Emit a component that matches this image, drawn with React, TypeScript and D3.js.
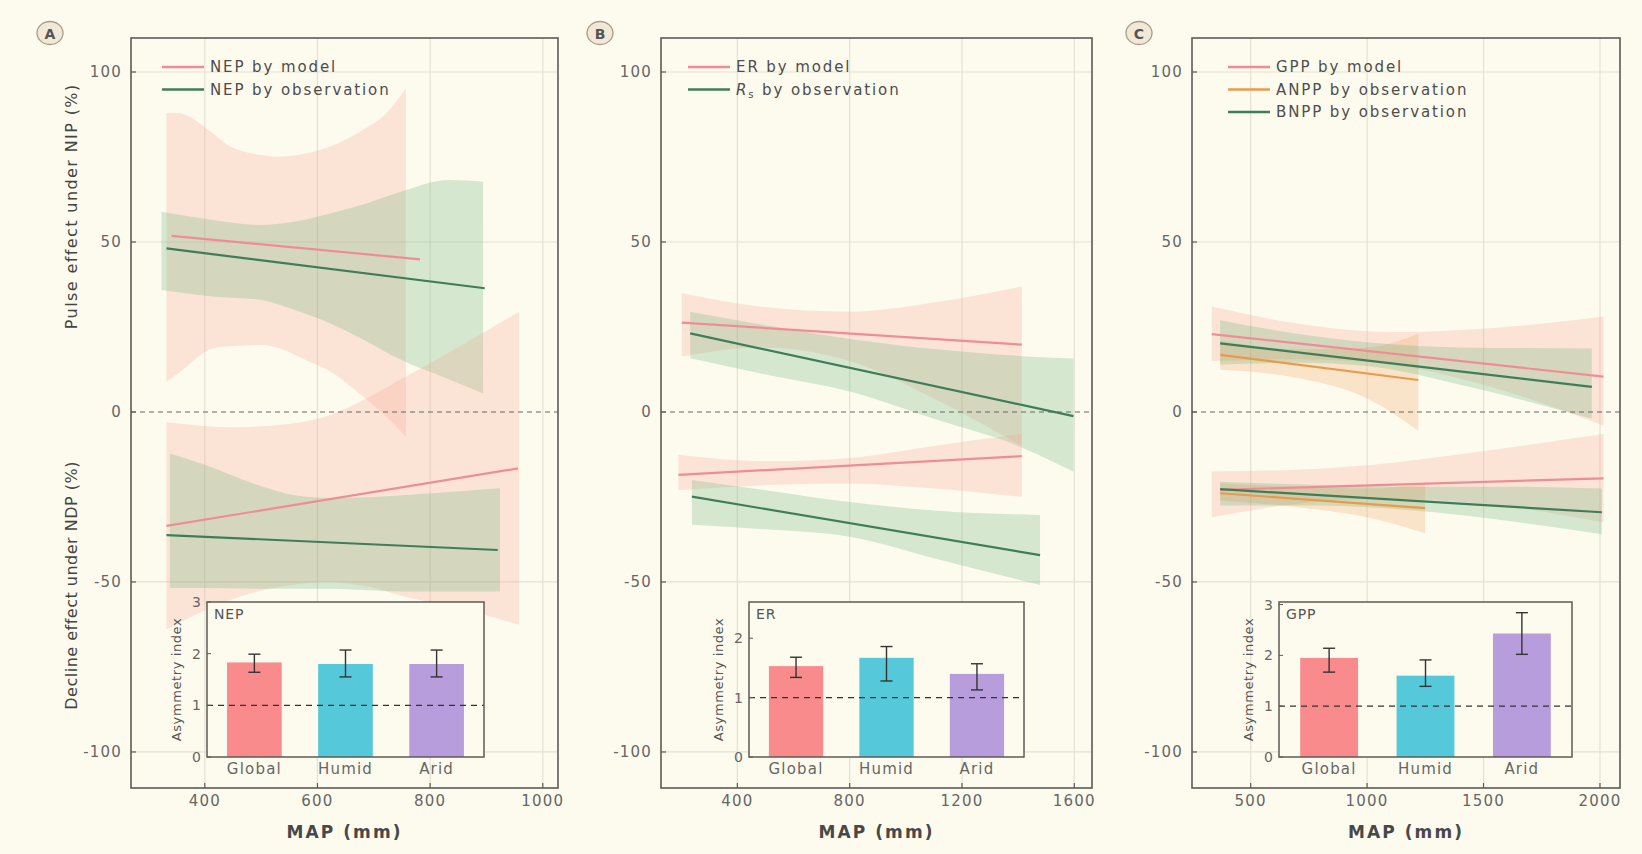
import React from "react"
import * as d3 from "d3"

// ---- shared axis values ----
const yTicks = [-100, -50, 0, 50, 100]
const aTicks = [400, 600, 800, 1000]
const bTicks = [400, 800, 1200, 1600]
const cTicks = [500, 1000, 1500, 2000]
const groups = ["Global", "Humid", "Arid"]

// ---- panel A: NEP  (band rows are [MAP, lower, upper]) ----
const aModelPulseLine = [[341, 51.8], [782, 44.9]]
const aModelPulseBand = [
  [332, 8.9, 87.9], [350, 11, 88], [414, 18.7, 82], [444, 19.3, 78.2], [503, 19.7, 75.5],
  [527, 19, 75.1], [592, 14.3, 76.5], [622, 12, 78], [681, 4.5, 83], [720, -1, 87.5], [757, -7.3, 95.2],
]
const aObsPulseLine = [[332, 48.1], [897, 36.4]]
const aObsPulseBand = [
  [323, 35.9, 58.9], [414, 34, 56.5], [503, 32.9, 55], [560, 30, 56], [622, 26.1, 58.4],
  [690, 20.5, 61.5], [740, 16, 64.3], [835, 9.5, 68.2], [894, 5.5, 67.7],
]
const aModelDeclineLine = [[332, -33.5], [956, -16.6]]
const aModelDeclineBand = [
  [332, -64, -3], [450, -55, -4.5], [550, -51, -3.5], [620, -50, -1], [693, -51.5, 4.5],
  [757, -54.4, 10.4], [860, -58, 20], [958, -62.6, 29.5],
]
const aObsDeclineLine = [[332, -36.2], [920, -40.6]]
const aObsDeclineBand = [
  [338, -51.8, -12.2], [400, -51.8, -15.5], [503, -52, -22], [560, -52, -24.5], [622, -52, -25.3],
  [700, -52.5, -25], [758, -52.8, -24.4], [924, -52.8, -22.4],
]
const nepIndex = [1.83, 1.8, 1.8]
const nepLow = [1.64, 1.55, 1.55]
const nepHigh = [1.99, 2.07, 2.07]

// ---- panel B: ER / Rs ----
const bModelPulseLine = [[202, 26.3], [1413, 19.8]]
const bModelPulseBand = [[202, 16.3, 34.9], [481, 19, 31], [801, 15, 29.5], [1100, 4, 32.2], [1413, -10, 36.9]]
const bObsPulseLine = [[232, 23.1], [1597, -1.2]]
const bObsPulseBand = [[232, 15.8, 29.5], [500, 11, 25.5], [800, 6, 21.5], [1100, -2, 18.5], [1400, -10, 16.5], [1597, -17.6, 15.7]]
const bModelDeclineLine = [[190, -18.5], [1413, -13]]
const bModelDeclineBand = [[190, -23, -12.6], [500, -21.5, -14.5], [800, -21, -13.5], [1100, -22.5, -10], [1413, -25, -6.4]]
const bObsDeclineLine = [[238, -24.9], [1478, -42.1]]
const bObsDeclineBand = [[238, -33.2, -20], [500, -34.5, -23], [800, -36.7, -26.5], [1100, -43, -29], [1478, -50.9, -30.3]]
const erIndex = [1.53, 1.67, 1.4]
const erLow = [1.34, 1.28, 1.13]
const erHigh = [1.68, 1.86, 1.57]

// ---- panel C: GPP / ANPP / BNPP ----
const cGppPulseLine = [[333, 22.9], [2015, 10.4]]
const cGppPulseBand = [[333, 15, 31], [700, 15.5, 26], [1100, 14, 23.5], [1500, 8, 24.5], [2015, -4, 28]]
const cAnppPulseLine = [[369, 16.8], [1220, 9.4]]
const cAnppPulseBand = [[369, 12.4, 21], [700, 10, 18.5], [1000, 4, 19], [1220, -5.5, 23]]
const cBnppPulseLine = [[369, 20.2], [1965, 7.4]]
const cBnppPulseBand = [[369, 14, 27], [700, 14.5, 23], [1000, 13.5, 20.5], [1400, 8, 19], [1965, -2, 18.7]]
const cGppDeclineLine = [[369, -22.9], [2015, -19.5]]
const cGppDeclineBand = [[333, -31, -17.5], [700, -27, -17], [1100, -25.5, -15], [1500, -27, -11.5], [2015, -32.5, -6.5]]
const cAnppDeclineLine = [[369, -23.9], [1249, -28.3]]
const cAnppDeclineBand = [[369, -26, -21], [700, -28, -22], [1000, -31, -22.5], [1249, -35.7, -21]]
const cBnppDeclineLine = [[369, -22.7], [2008, -29.5]]
const cBnppDeclineBand = [[369, -27.5, -20.5], [800, -27.5, -21.5], [1200, -29, -22], [1600, -32, -22], [2008, -36, -22.5]]
const gppIndex = [1.95, 1.6, 2.43]
const gppLow = [1.67, 1.39, 2.02]
const gppHigh = [2.14, 1.91, 2.84]

// ---- styling ----
const BG = "#fdfbee"
const GRID = "#e4e1d3"
const FRAME = "#5c5b55"
const TICK_TEXT = "#666"
const MODEL = "#ef8d96"
const OBS = "#3f7d59"
const ANPP = "#e99a4c"
const FILL = { [MODEL]: "#f8a090", [OBS]: "#5fae74", [ANPP]: "#f0a060" }
const BAR_COLORS = ["#f98b8c", "#55c9d9", "#b89ddd"]
const FONT = "'DejaVu Sans', sans-serif"

const TOP = 38
const BOTTOM = 788
const INSET_TOP = 602
const INSET_BOTTOM = 757

const panels = [
  {
    label: "A", left: 131, right: 558, xDomain: [269, 1027], xTicks: aTicks, badge: [50, 33],
    bands: [[aModelPulseBand, MODEL], [aObsPulseBand, OBS], [aModelDeclineBand, MODEL], [aObsDeclineBand, OBS]],
    lines: [[aModelPulseLine, MODEL], [aObsPulseLine, OBS], [aModelDeclineLine, MODEL], [aObsDeclineLine, OBS]],
    legend: [["NEP by model", MODEL], ["NEP by observation", OBS]], legendX: 162,
    inset: { name: "NEP", left: 207, right: 484, max: 3, ticks: [0, 1, 2, 3], values: nepIndex, low: nepLow, high: nepHigh },
  },
  {
    label: "B", left: 661, right: 1092, xDomain: [128, 1663], xTicks: bTicks, badge: [600, 33],
    bands: [[bModelPulseBand, MODEL], [bObsPulseBand, OBS], [bModelDeclineBand, MODEL], [bObsDeclineBand, OBS]],
    lines: [[bModelPulseLine, MODEL], [bObsPulseLine, OBS], [bModelDeclineLine, MODEL], [bObsDeclineLine, OBS]],
    legend: [["ER by model", MODEL], ["Rs by observation", OBS]], legendX: 688,
    inset: { name: "ER", left: 749, right: 1024, max: 2.61, ticks: [0, 1, 2], values: erIndex, low: erLow, high: erHigh },
  },
  {
    label: "C", left: 1192, right: 1620, xDomain: [248, 2086], xTicks: cTicks, badge: [1139, 33],
    bands: [
      [cGppPulseBand, MODEL], [cAnppPulseBand, ANPP], [cBnppPulseBand, OBS],
      [cGppDeclineBand, MODEL], [cAnppDeclineBand, ANPP], [cBnppDeclineBand, OBS],
    ],
    lines: [
      [cGppPulseLine, MODEL], [cAnppPulseLine, ANPP], [cBnppPulseLine, OBS],
      [cGppDeclineLine, MODEL], [cAnppDeclineLine, ANPP], [cBnppDeclineLine, OBS],
    ],
    legend: [["GPP by model", MODEL], ["ANPP by observation", ANPP], ["BNPP by observation", OBS]], legendX: 1228,
    inset: { name: "GPP", left: 1279, right: 1572, max: 3.05, ticks: [0, 1, 2, 3], values: gppIndex, low: gppLow, high: gppHigh },
  },
]

const tickText = { fontSize: 15, letterSpacing: 1.2, fill: TICK_TEXT }

const LegendLabel = ({ text }) => {
  if (text.startsWith("Rs ")) {
    return (
      <>
        <tspan fontStyle="italic">R</tspan>
        <tspan dy={4} fontSize={10}>s</tspan>
        <tspan dy={-4}>{text.slice(2)}</tspan>
      </>
    )
  }
  return <>{text}</>
}

const Inset = ({ inset }) => {
  const y = d3.scaleLinear().domain([0, inset.max]).range([INSET_BOTTOM, INSET_TOP])
  const x = d3.scaleBand().domain(groups).range([inset.left, inset.right]).paddingInner(0.4).paddingOuter(0.22)
  const w = inset.right - inset.left
  return (
    <g>
      <rect x={inset.left} y={INSET_TOP} width={w} height={INSET_BOTTOM - INSET_TOP} fill={BG} />
      {groups.map((g, i) => (
        <rect key={g} x={x(g)} y={y(inset.values[i])} width={x.bandwidth()}
          height={y(0) - y(inset.values[i])} fill={BAR_COLORS[i]} />
      ))}
      <line x1={inset.left} x2={inset.right} y1={y(1)} y2={y(1)} stroke="#333" strokeWidth={1.3} strokeDasharray="6,5" />
      {groups.map((g, i) => {
        const cx = x(g) + x.bandwidth() / 2
        return (
          <g key={g} stroke="#333" strokeWidth={1.4}>
            <line x1={cx} x2={cx} y1={y(inset.low[i])} y2={y(inset.high[i])} />
            <line x1={cx - 6} x2={cx + 6} y1={y(inset.low[i])} y2={y(inset.low[i])} />
            <line x1={cx - 6} x2={cx + 6} y1={y(inset.high[i])} y2={y(inset.high[i])} />
          </g>
        )
      })}
      <rect x={inset.left} y={INSET_TOP} width={w} height={INSET_BOTTOM - INSET_TOP}
        fill="none" stroke={FRAME} strokeWidth={1.5} />
      {inset.ticks.map(t => (
        <g key={t}>
          <line x1={inset.left} x2={inset.left + 4} y1={y(t)} y2={y(t)} stroke={FRAME} />
          <text x={inset.left - 5} y={y(t)} textAnchor="end" dominantBaseline="central" {...tickText} fontSize={14}>{t}</text>
        </g>
      ))}
      <text x={inset.left + 7} y={INSET_TOP + 17} fontSize={14} letterSpacing={0.8} fill="#555">{inset.name}</text>
      {groups.map(g => (
        <text key={g} x={x(g) + x.bandwidth() / 2} y={769} textAnchor="middle" dominantBaseline="central" {...tickText}>{g}</text>
      ))}
      <text transform={`translate(${inset.left - 31},${(INSET_TOP + INSET_BOTTOM) / 2}) rotate(-90)`}
        textAnchor="middle" dominantBaseline="central" fontSize={13} letterSpacing={0.6} fill="#555">
        Asymmetry index
      </text>
    </g>
  )
}

const Panel = ({ p, y }) => {
  const x = d3.scaleLinear().domain(p.xDomain).range([p.left, p.right])
  const area = d3.area().x(d => x(d[0])).y0(d => y(d[1])).y1(d => y(d[2])).curve(d3.curveMonotoneX)
  const line = d3.line().x(d => x(d[0])).y(d => y(d[1]))
  const clipId = `clip-${p.label}`
  return (
    <g>
      <defs>
        <clipPath id={clipId}>
          <rect x={p.left} y={TOP} width={p.right - p.left} height={BOTTOM - TOP} />
        </clipPath>
      </defs>
      {/* grid */}
      {p.xTicks.map(t => (
        <line key={`gx${t}`} x1={x(t)} x2={x(t)} y1={TOP} y2={BOTTOM} stroke={GRID} strokeWidth={1.2} />
      ))}
      {yTicks.filter(t => t !== 0).map(t => (
        <line key={`gy${t}`} x1={p.left} x2={p.right} y1={y(t)} y2={y(t)} stroke={GRID} strokeWidth={1.2} />
      ))}
      <g clipPath={`url(#${clipId})`}>
        {p.bands.map(([b, c], i) => (
          <path key={i} d={area(b)} fill={FILL[c]} fillOpacity={0.25} />
        ))}
        {p.lines.map(([l, c], i) => (
          <path key={i} d={line(l)} stroke={c} strokeWidth={2.2} fill="none" />
        ))}
      </g>
      <line x1={p.left} x2={p.right} y1={y(0)} y2={y(0)} stroke="#666" strokeWidth={1.2} strokeDasharray="5,4" />

      {/* legend */}
      {p.legend.map(([t, c], i) => (
        <g key={t}>
          <line x1={p.legendX} x2={p.legendX + 42} y1={67 + i * 22.5} y2={67 + i * 22.5} stroke={c} strokeWidth={2.5} />
          <text x={p.legendX + 48} y={67 + i * 22.5} dominantBaseline="central" fontSize={15} letterSpacing={1.9} fill="#4d4d4d">
            <LegendLabel text={t} />
          </text>
        </g>
      ))}

      <Inset inset={p.inset} />

      {/* frame + axes */}
      <rect x={p.left} y={TOP} width={p.right - p.left} height={BOTTOM - TOP} fill="none" stroke={FRAME} strokeWidth={1.6} />
      {yTicks.map(t => (
        <g key={`ty${t}`}>
          <line x1={p.left} x2={p.left + 5} y1={y(t)} y2={y(t)} stroke={FRAME} strokeWidth={1.2} />
          <text x={p.left - 9} y={y(t)} textAnchor="end" dominantBaseline="central" {...tickText}>{t}</text>
        </g>
      ))}
      {p.xTicks.map(t => (
        <g key={`tx${t}`}>
          <line x1={x(t)} x2={x(t)} y1={BOTTOM} y2={BOTTOM - 5} stroke={FRAME} strokeWidth={1.2} />
          <text x={x(t)} y={801} textAnchor="middle" dominantBaseline="central" {...tickText}>{t}</text>
        </g>
      ))}
      <text x={(p.left + p.right) / 2} y={832} textAnchor="middle" dominantBaseline="central"
        fontSize={17} fontWeight="bold" letterSpacing={2.1} fill="#484848">MAP (mm)</text>

      {/* panel badge */}
      <ellipse cx={p.badge[0]} cy={p.badge[1]} rx={13} ry={11.5} fill="#f2e8d8" stroke="#a79b8a" strokeWidth={1.3} />
      <text x={p.badge[0]} y={p.badge[1] + 1} textAnchor="middle" dominantBaseline="central"
        fontSize={14} fontWeight="bold" fill="#555">{p.label}</text>
    </g>
  )
}

export default function App() {
  const y = d3.scaleLinear().domain([-110.6, 110]).range([BOTTOM, TOP])
  return (
    <div style={{ position: "absolute", left: 0, top: 0 }}>
      <svg width={1642} height={854} style={{ display: "block", fontFamily: FONT }}>
        <rect width={1642} height={854} fill={BG} />
        {panels.map(p => <Panel key={p.label} p={p} y={y} />)}
        <text transform={`translate(71,${y(60.5)}) rotate(-90)`} textAnchor="middle" dominantBaseline="central"
          fontSize={16} letterSpacing={1.4} fill="#444">Pulse effect under NIP (%)</text>
        <text transform={`translate(71,${y(-51)}) rotate(-90)`} textAnchor="middle" dominantBaseline="central"
          fontSize={16} letterSpacing={0.5} fill="#444">Decline effect under NDP (%)</text>
      </svg>
    </div>
  )
}
